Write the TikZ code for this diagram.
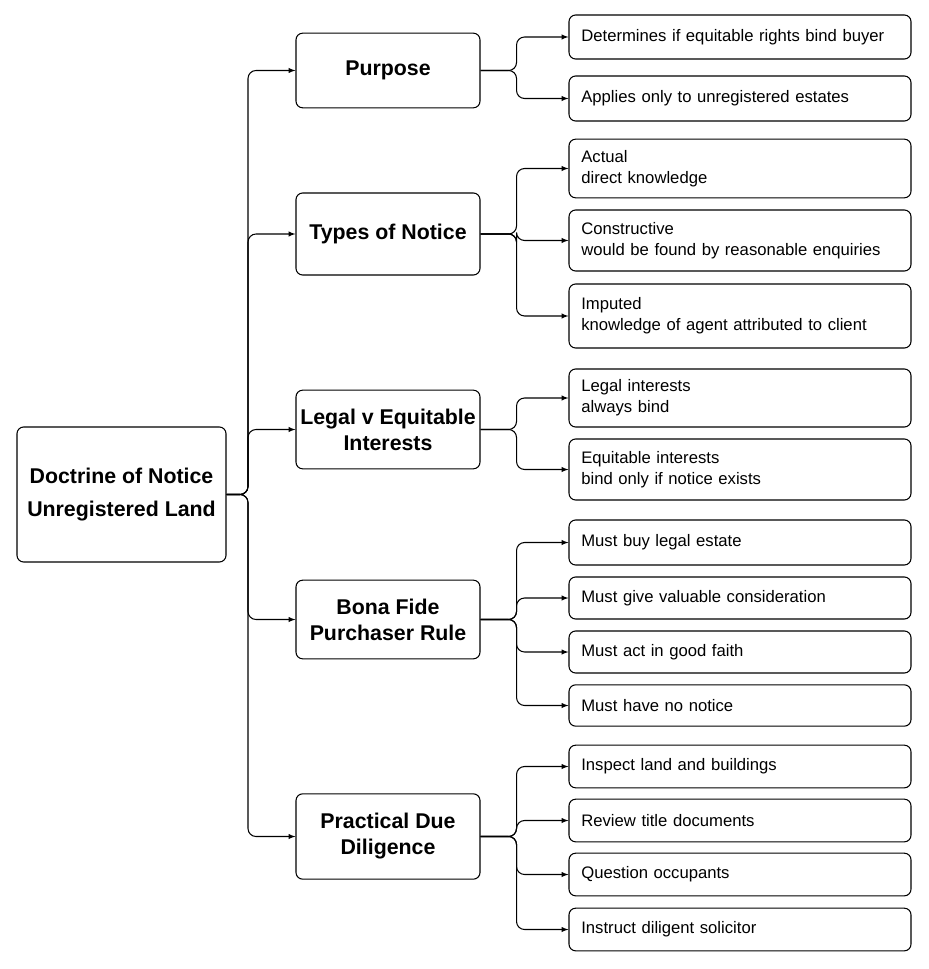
\documentclass[tikz,border=0pt]{standalone}
\usepackage{fontspec}
\setmainfont{Liberation Sans}
\usetikzlibrary{calc}
\begin{document}
\begin{tikzpicture}[x=0.75pt,y=-0.75pt,
  box/.style={draw,rounded corners=5pt,line width=0.8pt,inner sep=0pt},
  mid/.style={box,minimum width=138pt,align=center,font=\fontsize{16}{19.5}\selectfont\bfseries},
  leaf/.style={box,minimum width=256.5pt,align=left,text width=238pt,font=\fontsize{12.5}{16}\selectfont},
  arr/.style={-latex,line width=0.8pt,rounded corners=6pt}]
\useasboundingbox (0,0) rectangle (928,969);
\node[box,minimum width=156.75pt,minimum height=101.25pt,align=center,font=\fontsize{16}{25}\selectfont\bfseries] (root) at (121.5,494.5) {Doctrine of Notice\\Unregistered Land};
\node[mid,minimum height=56pt] (m1) at (388,70.5) {Purpose};
\node[mid,minimum height=61.5pt] (m2) at (388,234) {Types of Notice};
\node[mid,minimum height=59pt] (m3) at (388,429.5) {Legal v Equitable\\Interests};
\node[mid,minimum height=59pt] (m4) at (388,619.5) {Bona Fide\\Purchaser Rule};
\node[mid,minimum height=64pt] (m5) at (388,836.5) {Practical Due\\Diligence};
\foreach \m in {m1,m2,m3,m4,m5}{\draw[arr] (root.east) -- (248,494.5) |- (\m.west);}
\node[leaf,minimum height=33pt] (l11) at (740,37) {Determines if equitable rights bind buyer};
\node[leaf,minimum height=33.75pt] (l12) at (740,98.5) {Applies only to unregistered estates};
\node[leaf,minimum height=44pt] (l21) at (740,168.5) {Actual\\direct knowledge};
\node[leaf,minimum height=45.75pt] (l22) at (740,240.5) {Constructive\\would be found by reasonable enquiries};
\node[leaf,minimum height=48pt] (l23) at (740,316) {Imputed\\knowledge of agent attributed to client};
\node[leaf,minimum height=43.5pt] (l31) at (740,398) {Legal interests\\always bind};
\node[leaf,minimum height=45.75pt] (l32) at (740,469.5) {Equitable interests\\bind only if notice exists};
\node[leaf,minimum height=33.75pt] (l41) at (740,542.5) {Must buy legal estate};
\node[leaf,minimum height=31.5pt] (l42) at (740,598) {Must give valuable consideration};
\node[leaf,minimum height=31.5pt] (l43) at (740,652) {Must act in good faith};
\node[leaf,minimum height=31pt] (l44) at (740,705.5) {Must have no notice};
\node[leaf,minimum height=32pt] (l51) at (740,766.5) {Inspect land and buildings};
\node[leaf,minimum height=32pt] (l52) at (740,820.5) {Review title documents};
\node[leaf,minimum height=32pt] (l53) at (740,874.5) {Question occupants};
\node[leaf,minimum height=32pt] (l54) at (740,929.5) {Instruct diligent solicitor};
\foreach \m/\ls in {m1/{l11,l12},m2/{l21,l22,l23},m3/{l31,l32},m4/{l41,l42,l43,l44},m5/{l51,l52,l53,l54}}{
  \foreach \l in \ls {\draw[arr] (\m.east) -- ($(\m.east)+(36,0)$) |- (\l.west);}}
\end{tikzpicture}
\end{document}
